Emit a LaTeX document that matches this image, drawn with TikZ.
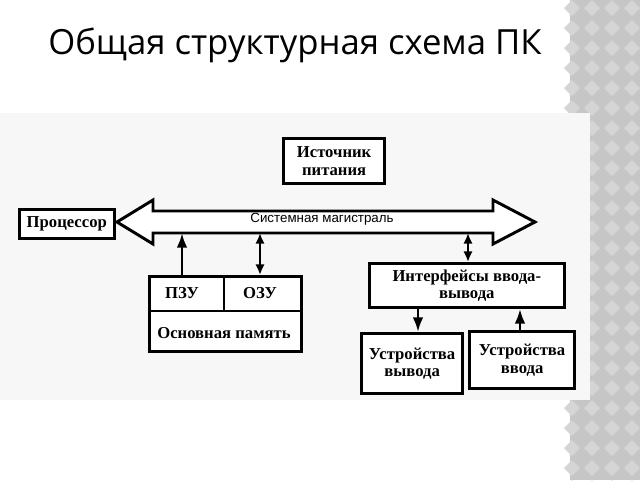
\documentclass[tikz,border=0pt]{standalone}
\usepackage{fontspec}
\setmainfont{Liberation Serif}
\setsansfont{Liberation Sans}
\newfontfamily\titlefont{Open Sans}
\usetikzlibrary{arrows.meta,positioning}

\begin{document}
\begin{tikzpicture}[
    x=0.75pt, y=-0.75pt,
    block/.style={draw, line width=2.2pt, fill=white, align=center, font=\bfseries\fontsize{12.5}{13}\selectfont, inner sep=0pt, anchor=north west},
    label/.style={font=\bfseries\fontsize{12.5}{13}\selectfont},
    link/.style={-{Latex[length=11pt,width=8pt]}, line width=2pt},
    biglink/.style={{Latex[length=8pt,width=7pt]}-{Latex[length=8pt,width=7pt]}, line width=2pt}
]
\useasboundingbox (0,0) rectangle (640,480);

% Background and side strip
\fill[white] (0,0) rectangle (640,480);
\fill[gray!45] (570,0) rectangle (640,480);
\foreach \i in {0,...,24} {
  \foreach \j in {0,...,3} {
    \fill[gray!33] ({572+\j*20},{\i*20}) -- ++(8,8) -- ++(-8,8) -- ++(-8,-8) -- cycle;
  }
}
\fill[black!3] (0,113) rectangle (590,400);

% Title
\node[font=\titlefont\fontsize{26}{30}\selectfont] (title) at (295,45) {Общая структурная схема ПК};

% Blocks
\node[block, minimum width=76pt, minimum height=34pt] (power) at (282,137) {Источник\\питания};
\node[block, minimum width=71pt, minimum height=22pt] (cpu) at (18,208) {Процессор};
\node[block, minimum width=114pt, minimum height=56pt] (mem) at (148,275) {};
\node[block, minimum width=146pt, minimum height=33pt] (io) at (368,262) {Интерфейсы ввода-\\вывода};
\node[block, minimum width=76pt, minimum height=45pt] (out) at (360,332) {Устройства\\вывода};
\node[block, minimum width=79pt, minimum height=43pt] (in) at (468,330) {Устройства\\ввода};

% Memory inner division
\draw[line width=2.2pt] (148,311) -- (300,311);
\draw[line width=2.2pt] (224,275) -- (224,311);
\node[label] (rom) at (182,293) {ПЗУ};
\node[label] (ram) at (260,293) {ОЗУ};
\node[label] (main) at (224,333) {Основная память};

% System bus
\draw[line width=2.2pt, fill=white, line join=miter]
  (117,222) -- (153,200) -- (153,211) -- (493,211) -- (493,200) -- (535,222)
  -- (493,244) -- (493,233) -- (153,233) -- (153,244) -- cycle;
\node[font=\sffamily\fontsize{10}{11}\selectfont] (bus) at (322,219) {Системная магистраль};
\coordinate (busrom) at (182,233);
\coordinate (busram) at (260,233);
\coordinate (busio) at (468,233);
\coordinate (outx) at (418,0);
\coordinate (inx) at (520,0);

% Connections
\draw[link] (mem.north west -| busrom) -- (busrom);
\draw[biglink] (busram) -- (mem.north west -| busram);
\draw[biglink] (busio) -- (io.north west -| busio);
\draw[link] (io.south west -| outx) -- (out.north west -| outx);
\draw[link] (in.north west -| inx) -- (io.south west -| inx);

\end{tikzpicture}
\end{document}
